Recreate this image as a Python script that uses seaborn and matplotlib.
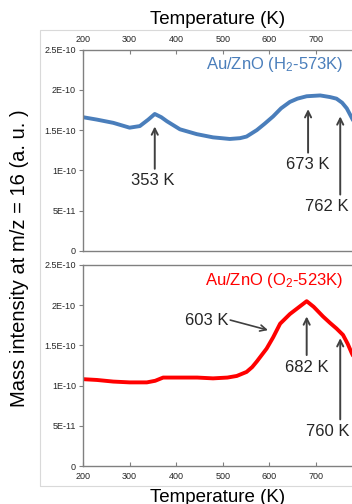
import numpy as np
import pandas as pd
import matplotlib
matplotlib.use("Agg")
import matplotlib.pyplot as plt
from matplotlib.patches import Rectangle
import seaborn as sns

# ---------------- data ----------------
temp_h2 = [200, 230, 265, 300, 322, 340, 354, 368, 380, 408, 444, 479, 515, 537,
           551, 573, 590, 608, 625, 644, 660, 680, 709, 730, 744, 756, 766, 777, 790]
signal_h2 = [1.66, 1.63, 1.59, 1.53, 1.55, 1.63, 1.70, 1.66, 1.61, 1.51, 1.45, 1.41,
             1.39, 1.40, 1.42, 1.50, 1.58, 1.67, 1.77, 1.85, 1.89, 1.92, 1.93, 1.91,
             1.89, 1.84, 1.77, 1.65, 1.50]  # x 1e-10

temp_o2 = [200, 230, 265, 300, 337, 355, 372, 408, 445, 479, 510, 530, 551, 563,
           573, 594, 608, 623, 644, 662, 680, 695, 715, 730, 744, 758, 768, 777, 790]
signal_o2 = [1.08, 1.07, 1.05, 1.04, 1.04, 1.06, 1.10, 1.10, 1.10, 1.09, 1.10, 1.12,
             1.17, 1.23, 1.30, 1.46, 1.60, 1.77, 1.89, 1.97, 2.05, 1.98, 1.86, 1.78,
             1.71, 1.63, 1.52, 1.40, 1.25]  # x 1e-10

x_ticks = [200, 300, 400, 500, 600, 700]
y_ticks = [0, 0.5e-10, 1.0e-10, 1.5e-10, 2.0e-10, 2.5e-10]
y_tick_labels = ["0", "5E-11", "1E-10", "1.5E-10", "2E-10", "2.5E-10"]

title_h2 = r"Au/ZnO (H$_2$-573K)"
title_o2 = r"Au/ZnO (O$_2$-523K)"

# annotations: label, arrow tip (T, value e-10), text position (T, value e-10)
ann_h2 = [("353 K", (354, 1.545), (350, 0.87)),
          ("673 K", (683, 1.76), (683, 1.07)),
          ("762 K", (752, 1.67), (724, 0.55))]
ann_o2 = [("682 K", (680, 1.86), (680, 1.23)),
          ("760 K", (752, 1.59), (725, 0.43))]

# ---------------- style ----------------
sns.set_theme(style="white")
plt.rcParams["font.family"] = ["Liberation Sans", "DejaVu Sans"]
plt.rcParams["mathtext.fontset"] = "custom"
plt.rcParams["mathtext.rm"] = "Liberation Sans"
plt.rcParams["mathtext.it"] = "Liberation Sans"
plt.rcParams["mathtext.default"] = "regular"

W, H = 352, 504
fig = plt.figure(figsize=(W / 100, H / 100), dpi=100)

blue = "#4A7EBB"
red = "#FF0000"
spine_c = "#808080"
txt_c = "#262626"
arrow_c = "#404040"

def px_axes(left, top, right, bottom):
    return [left / W, 1 - bottom / H, (right - left) / W, (bottom - top) / H]

right_px = 83 + 600 * 0.466
ax1 = fig.add_axes(px_axes(83, 49.5, right_px, 251))
ax2 = fig.add_axes(px_axes(83, 265, right_px, 466))

df1 = pd.DataFrame({"T": temp_h2, "I": np.array(signal_h2) * 1e-10})
df2 = pd.DataFrame({"T": temp_o2, "I": np.array(signal_o2) * 1e-10})
sns.lineplot(data=df1, x="T", y="I", ax=ax1, color=blue, lw=2.8, estimator=None, sort=False)
sns.lineplot(data=df2, x="T", y="I", ax=ax2, color=red, lw=2.8, estimator=None, sort=False)

for ax in (ax1, ax2):
    ax.set_xlim(200, 800)
    ax.set_ylim(0, 2.5e-10)
    ax.set_xticks(x_ticks)
    ax.set_xticklabels([str(t) for t in x_ticks])
    ax.set_yticks(y_ticks)
    ax.set_yticklabels(y_tick_labels)
    ax.set_xlabel("")
    ax.set_ylabel("")
    for s in ax.spines.values():
        s.set_color(spine_c)
        s.set_linewidth(1.0)
    ax.spines["right"].set_visible(False)
    ax.tick_params(axis="y", which="both", left=True, direction="out", length=3,
                   width=0.8, color=spine_c, labelsize=6.5, labelcolor=txt_c, pad=2)
    ax.patch.set_alpha(0)

ax1.xaxis.tick_top()
ax1.tick_params(axis="x", top=True, bottom=False, direction="in", length=3, width=0.8,
                color=spine_c, labelsize=6.5, labelcolor=txt_c, pad=4)
ax2.tick_params(axis="x", bottom=True, top=False, direction="in", length=3, width=0.8,
                color=spine_c, labelsize=6.5, labelcolor=txt_c, pad=4)

ax1.text(758, 2.31e-10, title_h2, color=blue, fontsize=12, ha="right", va="center")
ax2.text(758, 2.31e-10, title_o2, color=red, fontsize=12, ha="right", va="center")

def annotate(ax, items):
    for lab, tip, txt in items:
        ax.annotate("", xy=(tip[0], tip[1] * 1e-10), xytext=(tip[0], (txt[1] + 0.15) * 1e-10),
                    arrowprops=dict(arrowstyle="->", color=arrow_c, lw=1.4,
                                    shrinkA=0, shrinkB=0, mutation_scale=11))
        ax.text(txt[0], txt[1] * 1e-10, lab, fontsize=12, color=txt_c,
                ha="center", va="center")

annotate(ax1, ann_h2)
annotate(ax2, ann_o2)

# 603 K side arrow
ax2.annotate("", xy=(597, 1.69e-10), xytext=(516, 1.815e-10),
             arrowprops=dict(arrowstyle="->", color=arrow_c, lw=1.2,
                             shrinkA=0, shrinkB=0, mutation_scale=11))
ax2.text(512, 1.815e-10, "603 K", fontsize=12, color=txt_c, ha="right", va="center")

# chart-area border
fig.add_artist(Rectangle((39.5 / W, 1 - 486 / H), 1.0, (486 - 30) / H,
                         transform=fig.transFigure, fill=False,
                         edgecolor="#d9d9d9", lw=0.8))

fig.text(217.5 / W, 1 - 20 / H, "Temperature (K)", fontsize=13.5, color="black",
         ha="center", va="center")
fig.text(217.5 / W, 1 - 497 / H, "Temperature (K)", fontsize=13.5, color="black",
         ha="center", va="center")
fig.text(20 / W, 1 - 258 / H, "Mass intensity at m/z = 16 (a. u. )", fontsize=14.5,
         color="black", rotation=90, ha="center", va="center")

fig.savefig("out.png", dpi=100)
